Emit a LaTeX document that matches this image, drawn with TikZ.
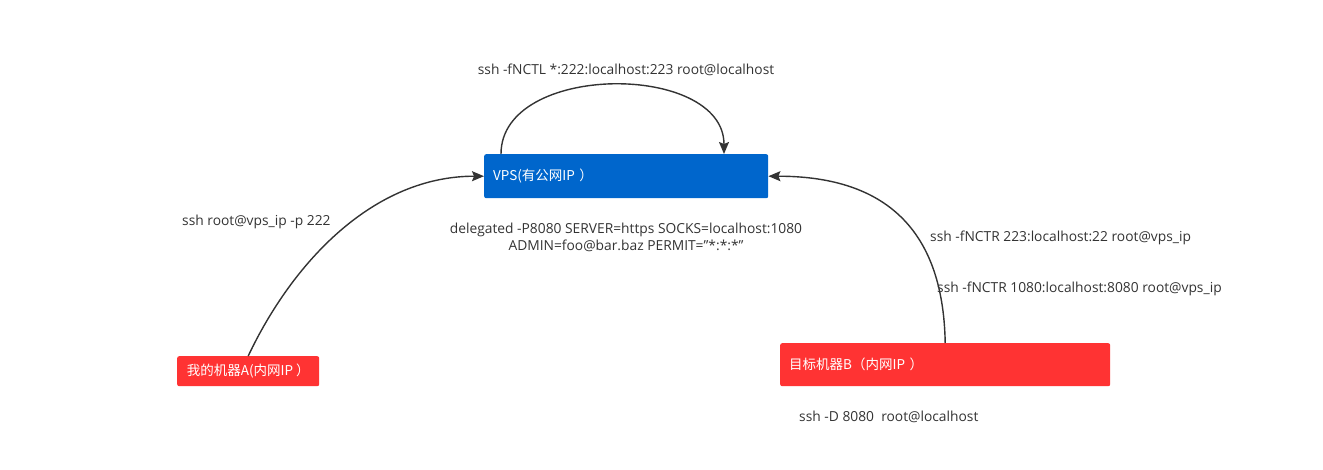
\documentclass[tikz,border=0pt]{standalone}
\usepackage{fontspec}
\setmainfont{Open Sans}
\newfontfamily\cjk{Noto Sans CJK SC}
\usetikzlibrary{arrows.meta}
\definecolor{vpsblue}{HTML}{0066CC}
\definecolor{hostred}{HTML}{FF3333}
\definecolor{ink}{HTML}{333333}
\tikzset{x=1pt, y=-1pt,
every node/.style={ % Sets the font for all texts
font=\fontsize{13.8}{17}\selectfont,
text=ink},
machine/.style={ % Sets the properties for each box
rectangle,
rounded corners=2pt,
anchor=north west,
inner xsep=9pt,
align=left,
font=\fontsize{13.5}{17}\cjk,
text=white},
cmd/.style={ % Plain command labels
inner sep=0pt},
link/.style={ % Sets the properties for each connector
draw=ink,
line width=1.4pt,
-{Stealth[length=12pt,width=10pt,inset=2pt]}}}
\begin{document}
\begin{tikzpicture}
	\useasboundingbox (0,0) rectangle (1323,470);
	\node[machine, fill=vpsblue, minimum width=284pt, minimum height=44pt, text width=266pt] (vps) at (484,154) {VPS(有公网IP ）};
	\node[machine, fill=hostred, minimum width=142pt, minimum height=30pt, inner xsep=0pt] (a) at (177,356) {我的机器A(内网IP ）};
	\node[machine, fill=hostred, minimum width=330pt, minimum height=43pt, text width=312pt] (b) at (780,343) {目标机器B（内网IP ）};
	\node[cmd] (loop) at (626,70) {ssh -fNCTL *:222:localhost:223 root@localhost};
	\node[cmd, anchor=west] (alabel) at (182,222) {ssh root@vps\_ip -p 222};
	\node[cmd, align=center] (deleg) at (626,237) {delegated -P8080 SERVER=https SOCKS=localhost:1080\\ADMIN=foo@bar.baz PERMIT=\symbol{34}*:*:*\symbol{34}};
	\node[cmd, anchor=west] (rone) at (930,238) {ssh -fNCTR 223:localhost:22 root@vps\_ip};
	\node[cmd, anchor=west] (rtwo) at (937,289) {ssh -fNCTR 1080:localhost:8080 root@vps\_ip};
	\node[cmd, anchor=west] (socks) at (799,417) {ssh -D 8080~ root@localhost};
	\draw[link] (a.north) .. controls +(45,-95) and +(-110,0) .. (vps.west);
	\draw[link] (b.north) .. controls +(-2,-120) and +(110,0) .. (vps.east);
	\draw[link] ([xshift=17pt]vps.north west) .. controls +(0,-92) and +(0,-92) .. ([xshift=240pt]vps.north west);
\end{tikzpicture}
\end{document}
